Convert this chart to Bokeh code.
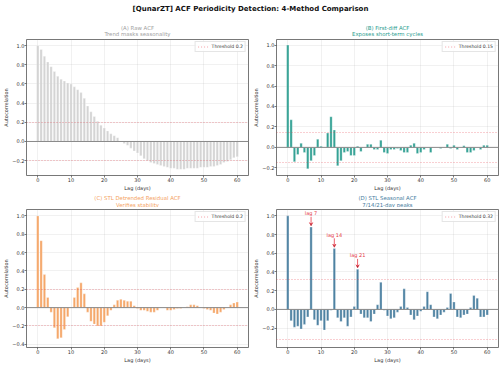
from bokeh.plotting import figure
from bokeh.layouts import column, row
from bokeh.models import ColumnDataSource, Span, FixedTicker, Arrow, VeeHead, Range1d
from bokeh.embed import file_html
from bokeh.resources import INLINE
from bokeh.core.properties import value

FONT = "DejaVu Sans"

lags = list(range(61))

acf_raw = [1.00, 0.96, 0.89, 0.83, 0.78, 0.73, 0.68, 0.65, 0.63, 0.61,
           0.60, 0.57, 0.54, 0.51, 0.45, 0.37, 0.31, 0.26, 0.21, 0.17,
           0.14, 0.11, 0.08, 0.06, 0.04, 0.00, -0.02, -0.04, -0.07, -0.10,
           -0.12, -0.15, -0.18, -0.20, -0.22, -0.23, -0.24, -0.25, -0.26, -0.27,
           -0.28, -0.28, -0.29, -0.29, -0.29, -0.28, -0.28, -0.28, -0.28, -0.27,
           -0.27, -0.27, -0.26, -0.26, -0.25, -0.24, -0.22, -0.21, -0.19, -0.17,
           -0.16]

acf_diff = [1.00, 0.27, -0.14, -0.07, 0.04, -0.05, -0.21, -0.13, -0.08, 0.08,
            0.01, 0.00, 0.14, 0.30, 0.17, -0.18, -0.13, -0.05, -0.04, -0.08,
            -0.08, 0.01, -0.04, 0.00, 0.03, 0.03, -0.02, -0.02, 0.07, -0.05,
            -0.06, -0.02, -0.02, -0.01, -0.03, -0.05, -0.05, 0.02, 0.04, -0.06,
            -0.05, -0.02, 0.00, -0.05, 0.00, 0.00, -0.01, 0.00, 0.03, -0.01,
            0.02, -0.02, 0.00, 0.015, -0.05, -0.05, -0.03, 0.00, -0.02, 0.02,
            0.02]

acf_resid = [1.00, 0.73, 0.36, 0.11, -0.05, -0.22, -0.34, -0.33, -0.24, -0.10,
             0.00, 0.11, 0.22, 0.27, 0.15, -0.05, -0.15, -0.18, -0.20, -0.20,
             -0.16, -0.09, -0.03, 0.03, 0.08, 0.09, 0.08, 0.07, 0.07, 0.02,
             -0.01, -0.03, -0.03, -0.04, -0.05, -0.05, -0.03, 0.00, 0.00, -0.03,
             -0.03, -0.02, -0.01, -0.01, 0.00, 0.01, 0.03, 0.03, 0.02, 0.00,
             -0.01, -0.02, -0.03, -0.06, -0.07, -0.05, -0.02, 0.00, 0.03, 0.05,
             0.06]

acf_seasonal = [1.00, -0.12, -0.19, -0.18, -0.21, -0.16, -0.08, 0.88, -0.11, -0.17,
                -0.12, -0.22, -0.12, -0.01, 0.65, -0.09, -0.13, -0.09, -0.18, -0.08,
                0.03, 0.43, -0.05, -0.09, -0.09, -0.13, -0.05, 0.05, 0.29, -0.01,
                -0.07, -0.10, -0.09, -0.03, 0.03, 0.22, 0.02, -0.06, -0.11, -0.07,
                -0.02, 0.03, 0.19, 0.05, -0.08, -0.10, -0.06, -0.03, 0.02, 0.17,
                0.08, -0.08, -0.09, -0.06, -0.05, 0.02, 0.15, 0.12, -0.08, -0.08,
                -0.06]

thresholds = [0.2, 0.15, 0.2, 0.32]
panel_titles = ["(A) Raw ACF", "(B) First-diff ACF",
                "(C) STL Detrended Residual ACF", "(D) STL Seasonal ACF"]
panel_subtitles = ["Trend masks seasonality", "Exposes short-term cycles",
                   "Verifies stability", "7/14/21-day peaks"]
peak_lags = [7, 14, 21]
x_ticks = [0, 10, 20, 30, 40, 50, 60]
main_title = "[QunarZT] ACF Periodicity Detection: 4-Method Comparison"

bar_colors = ["#cfcfcf", "#2a9d8f", "#f4a261", "#457b9d"]
title_colors = ["#a0a0a0", "#2a9d8f", "#f4a261", "#457b9d"]
x_range = (-3.4, 63.4)
y_ranges = [(-0.355, 1.064), (-0.275, 1.055), (-0.435, 1.07), (-0.407, 1.068)]
y_ticks = [[-0.2, 0.0, 0.2, 0.4, 0.6, 0.8, 1.0],
           [-0.2, 0.0, 0.2, 0.4, 0.6, 0.8, 1.0],
           [-0.4, -0.2, 0.0, 0.2, 0.4, 0.6, 0.8, 1.0],
           [-0.2, 0.0, 0.2, 0.4, 0.6, 0.8, 1.0]]
RED = "#e63946"
LEFT, RIGHT = 26, 2


def fmt(t):
    return f"{t:.1f}".replace("-", "\u2212")


def blank(width, height):
    f = figure(width=width, height=height, output_backend="svg", toolbar_location=None,
               x_range=Range1d(0, width), y_range=Range1d(0, height), min_border=0,
               outline_line_color=None)
    f.axis.visible = False
    f.grid.visible = False
    return f


def title_panel(i, height, y1, y2):
    f = blank(250, height)
    xc = LEFT + (250 - LEFT - RIGHT) / 2
    f.text(x=[xc, xc], y=[y1, y2], text=[panel_titles[i], panel_subtitles[i]],
           text_font=value(FONT), text_font_size="5.4px", text_color=title_colors[i],
           text_align="center", text_baseline="middle")
    return f


def make_panel(i, vals, height, top, bottom):
    p = figure(width=250, height=height, output_backend="svg", toolbar_location=None,
               x_range=Range1d(*x_range), y_range=Range1d(*y_ranges[i]),
               min_border_top=top, min_border_bottom=bottom,
               min_border_left=LEFT, min_border_right=RIGHT,
               background_fill_color="white", border_fill_color="white",
               outline_line_color="#555555", outline_line_width=0.8)

    src = ColumnDataSource(dict(lag=lags, acf=vals))
    p.vbar(x="lag", top="acf", bottom=0, width=0.7, source=src,
           fill_color=bar_colors[i], line_color="white", line_width=0.3,
           fill_alpha=0.95 if i else 0.9)
    p.add_layout(Span(location=0, dimension="width", line_color="#888888",
                      line_width=1.0))
    thr = thresholds[i]
    p.hspan(y=[thr, -thr], line_color=RED, line_alpha=0.55, line_width=0.9,
            line_dash="1 2", legend_label=f"Threshold {thr}")

    if i == 3:
        pk = [vals[k] for k in peak_lags]
        asrc = ColumnDataSource(dict(x=peak_lags, y0=[v + 0.11 for v in pk],
                                     y1=[v + 0.015 for v in pk],
                                     ty=[v + 0.115 for v in pk],
                                     t=[f"lag {k}" for k in peak_lags]))
        p.add_layout(Arrow(end=VeeHead(size=3, line_color=RED, line_width=0.8),
                           x_start="x", y_start="y0", x_end="x", y_end="y1",
                           line_color=RED, line_width=0.8, source=asrc))
        p.text(x="x", y="ty", text="t", source=asrc, text_color=RED,
               text_font=value(FONT), text_font_size="5px",
               text_align="center", text_baseline="bottom")

    p.xaxis.ticker = FixedTicker(ticks=x_ticks)
    p.yaxis.ticker = FixedTicker(ticks=y_ticks[i])
    p.yaxis.major_label_overrides = {t: fmt(t) for t in y_ticks[i]}
    p.xaxis.axis_label = "Lag (days)"
    p.yaxis.axis_label = "Autocorrelation"
    for ax in (p.xaxis, p.yaxis):
        ax.axis_line_color = None
        ax.major_tick_line_color = "#444444"
        ax.major_tick_line_width = 0.7
        ax.major_tick_out = 2
        ax.major_tick_in = 0
        ax.minor_tick_line_color = None
        ax.major_label_text_font = FONT
        ax.major_label_text_font_size = "5px"
        ax.major_label_text_color = "#333333"
        ax.major_label_standoff = 0
        ax.axis_label_text_font = FONT
        ax.axis_label_text_font_size = "5px"
        ax.axis_label_text_font_style = "normal"
        ax.axis_label_text_color = "#333333"
        ax.axis_label_standoff = 0
    p.grid.grid_line_color = "#b0b0b0"
    p.grid.grid_line_alpha = 0.3
    p.grid.grid_line_width = 0.6

    lg = p.legend[0]
    lg.location = "top_right"
    lg.label_text_font = FONT
    lg.label_text_font_size = "4.6px"
    lg.label_text_color = "#333333"
    lg.glyph_width = 11
    lg.glyph_height = 5
    lg.label_height = 5
    lg.label_standoff = 3
    lg.padding = 2
    lg.spacing = 0
    lg.margin = 2
    lg.border_line_color = "#cccccc"
    lg.border_line_width = 0.6
    lg.background_fill_alpha = 0.85
    return p


tf = blank(500, 18)
tf.text(x=[250], y=[10], text=[main_title], text_font=value(FONT),
        text_font_size="7px", text_font_style="bold", text_color="#111111",
        text_align="center", text_baseline="middle")

series = [acf_raw, acf_diff, acf_resid, acf_seasonal]
tA, tB = title_panel(0, 19, 10, 4), title_panel(1, 19, 10, 4)
pA = make_panel(0, series[0], 156, 2, 17)
pB = make_panel(1, series[1], 156, 2, 17)
tC, tD = title_panel(2, 14, 10, 3), title_panel(3, 14, 10, 3)
pC = make_panel(2, series[2], 158, 2, 17)
pD = make_panel(3, series[3], 158, 2, 17)

layout = column(tf, row(tA, tB), row(pA, pB), row(tC, tD), row(pC, pD), spacing=0)
open("out.html", "w").write(file_html(layout, INLINE))
